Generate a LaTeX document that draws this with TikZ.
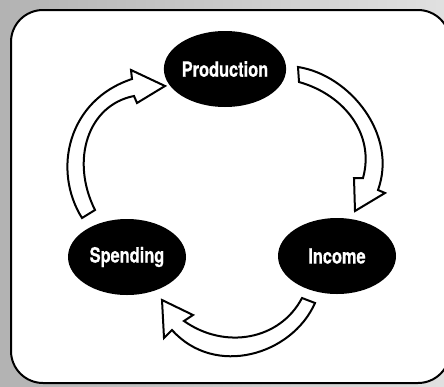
\documentclass[tikz,border=0pt]{standalone}
\usepackage{fontspec}
\newfontfamily\lblfont[FakeStretch=0.78,FakeBold=0.6]{TeX Gyre Heros}
\usetikzlibrary{shapes.geometric}

\begin{document}
\begin{tikzpicture}[x=1pt,y=-1pt,
  stage/.style={ellipse,fill=black,text=white,minimum width=118pt,minimum height=76pt,
    inner sep=0pt,font=\lblfont\bfseries\fontsize{21}{24}\selectfont},
  flow/.style={draw=black,line width=2pt,fill=white,line join=miter}]
  % backdrop and white frame
  \useasboundingbox (0,0) rectangle (444,386);
  \shade[left color=black!30,right color=black!12] (0,0) rectangle (444,386);
  \begin{scope}
    \clip (0,0) rectangle (444,386);
    \draw[fill=white,line width=2pt,rounded corners=32pt] (11,10) rectangle (450,383);
  \end{scope}

  % the three stages
  \node[stage] (prod) at (225,69) {Production};
  \node[stage] (inc) at (337,256) {Income};
  \node[stage] (spend) at (127,257) {Spending};

  % block arrows going round: production -> income -> spending -> production
  \draw[flow] (298,67) .. controls (350,75) and (398,135) .. (378,190)
    -- (385,193) -- (355,211) -- (354,178) -- (363,178)
    .. controls (375,135) and (345,95) .. (299,82) -- cycle;
  \draw[flow] (315,303) .. controls (292,355) and (215,378) .. (172,330)
    -- (164,338) -- (162,300) -- (193,315) -- (184,321)
    .. controls (225,350) and (280,340) .. (302,298) -- cycle;
  \draw[flow] (82,218) .. controls (52,170) and (68,100) .. (132,79)
    -- (131,70) -- (165,86) -- (137,103) -- (134,96)
    .. controls (88,105) and (70,160) .. (95,210) -- cycle;
\end{tikzpicture}
\end{document}
